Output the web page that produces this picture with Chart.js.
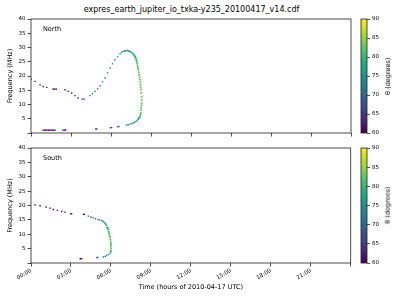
<!DOCTYPE html>
<html>
<head>
<meta charset="utf-8">
<script src="https://cdn.jsdelivr.net/npm/chart.js@4.4.7/dist/chart.umd.min.js"></script>
<style>
  body { margin: 0; width: 400px; height: 300px; background: #fff; position: relative; overflow: hidden; font-family: 'DejaVu Sans', sans-serif; color: #000; }
  canvas { position: absolute; }
  .txt { position: absolute; white-space: nowrap; line-height: 1; }
  .cblab { position: absolute; width: 60px; text-align: center; font-size: 6.5px; line-height: 1; transform: rotate(-90deg); white-space: nowrap; }
</style>
</head>
<body>
<div class="txt" style="left:0;width:383px;text-align:center;top:6px;font-size:8px">expres_earth_jupiter_io_txka-y235_20100417_v14.cdf</div>
<canvas id="north" width="355" height="150" style="left:0;top:0"></canvas>
<canvas id="south" width="355" height="160" style="left:0;top:140px"></canvas>
<canvas id="cbN" width="45" height="150" style="left:355px;top:0"></canvas>
<canvas id="cbS" width="45" height="160" style="left:355px;top:140px"></canvas>
<div class="txt" style="left:43px;top:26px;font-size:6.5px">North</div>
<div class="txt" style="left:43px;top:155px;font-size:6.5px">South</div>
<div class="cblab" style="left:358px;top:73px">θ (degrees)</div>
<div class="cblab" style="left:358px;top:202px">θ (degrees)</div>
<script>
// time ticks (hours of day)
const timeTicks = ['00:00', '03:00', '06:00', '09:00', '12:00', '15:00', '18:00', '21:00'];
const thetaTicks = [60, 65, 70, 75, 80, 85, 90];

// North hemisphere emission: hours, frequency (MHz), theta (deg)
const northHours = [
  0.0, 0.3, 0.68, 0.92, 1.18, 1.65, 1.72, 1.8, 1.9, 2.55, 2.78, 3.05, 3.3, 3.53, 3.83, 3.98,
  4.43, 4.6, 4.8, 5.0, 5.18, 5.36, 5.55, 5.74, 5.93, 6.11, 6.3, 6.49, 6.68, 6.8, 6.9,
  7.0, 7.05, 7.12, 7.2, 7.25, 7.3, 7.37, 7.43, 7.49, 7.55, 7.62, 7.69, 7.75,
  7.8, 7.84, 7.88, 7.91, 7.93, 7.96, 7.99, 8.02, 8.05, 8.08, 8.11, 8.14, 8.18, 8.2, 8.21, 8.23, 8.25, 8.27, 8.29,
  8.3, 8.3, 8.29, 8.27, 8.25, 8.23, 8.2, 8.16, 8.1, 8.05, 7.97, 7.88, 7.78, 7.67, 7.55, 7.43, 7.3, 7.18,
  6.6, 6.5, 6.05, 5.95, 4.93, 4.85,
  0.9, 1.0, 1.1, 1.2, 1.3, 1.4, 1.5, 1.6, 1.7, 1.8, 2.4, 2.5, 2.6
];
const northFreq = [
  18.9, 18.1, 16.9, 16.3, 16.0, 15.4, 15.4, 15.4, 15.4, 15.2, 14.6, 14.0, 13.1, 12.3, 11.9, 11.9,
  13.1, 13.8, 14.6, 15.5, 16.6, 18.0, 19.3, 21.1, 22.8, 24.3, 25.7, 26.7, 27.8, 28.3, 28.6,
  28.75, 28.8, 28.9, 29.0, 28.9, 28.8, 28.7, 28.6, 28.4, 28.2, 27.9, 27.6, 27.2,
  26.8, 26.4, 26.0, 25.5, 25.1, 24.4, 23.6, 22.9, 22.2, 21.3, 20.4, 19.5, 18.7, 17.8, 16.9, 16.0, 15.2, 14.0, 12.7,
  11.6, 10.5, 9.7, 8.9, 8.0, 7.0, 6.3, 5.7, 5.3, 4.9, 4.5, 4.1, 3.8, 3.5, 3.3, 3.1, 2.9, 2.8,
  2.3, 2.2, 1.9, 1.85, 1.4, 1.4,
  1.0, 1.0, 1.0, 1.0, 1.0, 1.0, 1.0, 1.0, 1.0, 1.0, 1.0, 1.0, 1.0
];
const northTheta = [
  61.5, 61.5, 61.5, 61.5, 61.5, 61.5, 61.5, 61.5, 61.5, 61.5, 61.5, 61.5, 61.5, 61.5, 61.5, 61.5,
  71, 71.5, 72, 72.5, 73, 73, 73, 73.5, 74, 74, 74, 74.5, 75, 75, 75,
  75, 75, 75.5, 75.5, 76, 76, 76.5, 77, 77.5, 78, 78.5, 79, 79.5,
  80, 80.5, 81, 81, 81.5, 81.5, 82, 82, 82, 82.5, 82.5, 83, 83, 83, 83, 83.5, 83.5, 83.5, 83.5,
  83.5, 83.5, 83, 83, 82.5, 82, 81.5, 81, 80, 79.5, 78.5, 77.5, 77, 76, 75, 74.5, 74, 73.5,
  71, 71, 68.5, 68.5, 66, 66,
  60.5, 60.5, 60.5, 60.5, 60.5, 60.5, 60.5, 60.5, 60.5, 60.5, 61, 61, 61
];

// South hemisphere emission
const southHours = [
  0.3, 0.68, 1.13, 1.43, 1.67, 1.98, 2.3, 2.55, 2.98, 3.05, 3.93, 4.0,
  4.3, 4.5, 4.67, 4.85, 5.05, 5.15, 5.3, 5.4, 5.48, 5.55, 5.62, 5.67, 5.72, 5.76, 5.8, 5.83, 5.86, 5.9, 5.93,
  5.96, 5.98, 6.0, 6.0, 6.0, 6.0, 5.98, 5.93, 5.8, 5.67, 5.55, 5.43, 5.0, 4.95, 3.8, 3.7
];
const southFreq = [
  20.2, 19.9, 19.5, 19.1, 18.6, 18.3, 17.9, 17.7, 17.1, 17.1, 16.9, 16.9,
  16.3, 16.0, 15.7, 15.4, 15.1, 15.0, 14.8, 14.5, 14.2, 13.8, 13.5, 13.1, 12.4, 12.0, 11.6, 10.8, 10.2, 9.6, 9.0,
  8.2, 7.4, 6.7, 6.0, 5.2, 4.4, 3.9, 3.3, 2.9, 2.6, 2.3, 2.1, 1.9, 1.9, 1.5, 1.5
];
const southTheta = [
  61, 61, 61, 61, 61, 61, 61, 61, 61, 61, 61, 61,
  68, 69, 70, 71, 72, 72.5, 73, 74, 75, 76, 77, 78.5, 79.5, 80, 80.5, 81, 81.5, 82, 82,
  82, 82.5, 82.5, 82.5, 82.5, 82, 80, 77, 75, 74, 73, 72, 67, 67, 61, 61
];

const FONT = 'DejaVu Sans';
const viridisStops = ['#440154', '#482475', '#414487', '#355f8d', '#2a788e', '#21918c', '#22a884', '#44bf70', '#7ad151', '#bddf26', '#fde725'];

function hexToRgb(h) {
  return [parseInt(h.slice(1, 3), 16), parseInt(h.slice(3, 5), 16), parseInt(h.slice(5, 7), 16)];
}
function viridis(theta) {
  let f = (theta - 60) / 30;
  f = Math.max(0, Math.min(1, f)) * (viridisStops.length - 1);
  const i = Math.min(Math.floor(f), viridisStops.length - 2);
  const a = hexToRgb(viridisStops[i]), b = hexToRgb(viridisStops[i + 1]);
  const t = f - i;
  return 'rgb(' + a.map((v, k) => Math.round(v + (b[k] - v) * t)).join(',') + ')';
}

const framePlugin = {
  id: 'frame',
  afterDraw(chart) {
    const a = chart.chartArea, ctx = chart.ctx;
    ctx.save();
    ctx.strokeStyle = '#222';
    ctx.lineWidth = 0.8;
    ctx.strokeRect(a.left, a.top, a.right - a.left, a.bottom - a.top);
    ctx.restore();
  }
};

function makePanel(id, hours, freq, theta, padTop, xHeight, showLabels) {
  const pts = hours.map((h, i) => ({ x: h, y: freq[i], t: theta[i] }));
  return new Chart(document.getElementById(id), {
    type: 'scatter',
    data: {
      datasets: [{
        data: pts,
        pointStyle: 'rect',
        pointRadius: ctx => (ctx.raw && ctx.raw.t >= 79 ? 1.3 : 1.0),
        pointBorderWidth: 0,
        pointBackgroundColor: ctx => viridis(ctx.raw ? ctx.raw.t : 60)
      }]
    },
    options: {
      responsive: false,
      animation: false,
      devicePixelRatio: 1,
      layout: { padding: { top: padTop, right: 4, left: 0, bottom: 0 } },
      plugins: { legend: { display: false }, tooltip: { enabled: false } },
      scales: {
        x: {
          type: 'linear', min: 0, max: 24,
          afterFit: s => { s.height = xHeight; },
          border: { display: false },
          grid: { drawOnChartArea: false, tickLength: 3.5, color: '#222', lineWidth: 0.8 },
          ticks: {
            display: showLabels, stepSize: 3, autoSkip: false,
            maxRotation: 30, minRotation: 30, padding: 1,
            color: '#000', font: { family: FONT, size: 5.5 },
            callback: v => timeTicks[v / 3] || ''
          },
          title: {
            display: showLabels, text: 'Time (hours of 2010-04-17 UTC)',
            color: '#000', font: { family: FONT, size: 6.5 }, padding: { top: 0, bottom: 9 }
          }
        },
        y: {
          min: 0, max: 40,
          afterFit: s => { s.width = 31; },
          border: { display: false },
          grid: { drawOnChartArea: false, tickLength: 3.5, color: '#222', lineWidth: 0.8 },
          ticks: {
            stepSize: 5, padding: 2, color: '#000', font: { family: FONT, size: 5.5 },
            callback: v => v === 0 ? '' : v
          },
          title: {
            display: true, text: 'Frequency (MHz)',
            color: '#000', font: { family: FONT, size: 6.5 }, padding: { top: 6, bottom: 0 }
          }
        }
      }
    },
    plugins: [framePlugin]
  });
}

function makeColorbar(id, padTop, padBottom) {
  return new Chart(document.getElementById(id), {
    type: 'bar',
    data: {
      labels: [''],
      datasets: [{
        data: [[thetaTicks[0], thetaTicks[thetaTicks.length - 1]]],
        barPercentage: 1,
        categoryPercentage: 1,
        borderWidth: 0,
        backgroundColor: ctx => {
          const a = ctx.chart.chartArea;
          if (!a) return '#21918c';
          const g = ctx.chart.ctx.createLinearGradient(0, a.bottom, 0, a.top);
          viridisStops.forEach((c, i) => g.addColorStop(i / (viridisStops.length - 1), c));
          return g;
        }
      }]
    },
    options: {
      responsive: false,
      animation: false,
      devicePixelRatio: 1,
      layout: { padding: { top: padTop, bottom: padBottom, left: 6, right: 0 } },
      plugins: { legend: { display: false }, tooltip: { enabled: false } },
      scales: {
        x: { display: false },
        y: {
          position: 'right',
          min: thetaTicks[0], max: thetaTicks[thetaTicks.length - 1],
          afterFit: s => { s.width = 33; },
          border: { display: false },
          grid: { drawOnChartArea: false, tickLength: 3, color: '#222', lineWidth: 0.8 },
          afterBuildTicks: s => { s.ticks = thetaTicks.map(v => ({ value: v })); },
          ticks: { padding: 2, color: '#000', font: { family: FONT, size: 5.5 } }
        }
      }
    },
    plugins: [framePlugin]
  });
}

makePanel('north', northHours, northFreq, northTheta, 19, 17, false);
makePanel('south', southHours, southFreq, southTheta, 8, 37, true);
makeColorbar('cbN', 19, 17);
makeColorbar('cbS', 8, 37);
</script>
</body>
</html>
